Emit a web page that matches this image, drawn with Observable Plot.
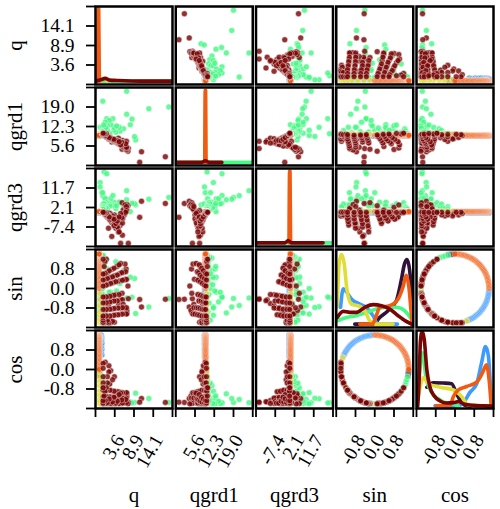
<!DOCTYPE html>
<html><head><meta charset="utf-8">
<style>html,body{margin:0;padding:0;background:#fff}</style>
<script src="https://cdn.jsdelivr.net/npm/d3@7"></script>
<script src="https://cdn.jsdelivr.net/npm/@observablehq/plot@0.6"></script>
</head><body><div id="chart"></div>
<script>
const vars = ["q","qgrd1","qgrd3","sin","cos"];
const classes = ["class 0","class 1","class 2","class 3","class 4","class 5"];
const colors = ["#30123b","#3e9bfe","#46f884","#e1dd37","#f05b12","#7a0403"];
const domains = {q:[-1.65,19.35],qgrd1:[-1.1,25.7],qgrd3:[-16.95,21.2],sin:[-1.6,1.6],cos:[-1.6,1.6]};
const tickLabels = {q:["3.6","8.9","14.1"],qgrd1:["5.6","12.3","19.0"],qgrd3:["-7.4","2.1","11.7"],sin:["-0.8","0.0","0.8"],cos:["-0.8","0.0","0.8"]};
const tickFractions = [0,0.25,0.5,0.75,1];

// points: [q, qgrd1, qgrd3, sin, cos]
const greenPts = [
[18.35,19,7.05,-.41,-1.35],[12.9,18.4,6.2,-.76,-1.19],[9.3,7.7,3.4,-1.03,-.97],[9,8.8,3.9,.41,-1.35],
[7.85,12.9,.1,.46,-1.33],[8.3,14.85,4.2,-.36,-1.37],[6.85,24.4,10.35,-.39,-1.36],[6.85,16.5,5.9,-1,-1],
[.7,9.8,19.5,-.38,-1.36],[1.43,15,18.6,-.35,-1.37],[-.4,12,14.3,-.75,-1.2],[-.4,8.9,12.2,-.78,-1.18],
[.07,9.2,9.4,-1.05,-.95],[1,10,6.4,-1,-1],[.35,21,7.9,-.7,-1.23],[6,11.5,2.9,.75,-1.2],
[5,10.7,4.7,.2,-1.4],[4.8,12,4.7,-.8,-1.17],[3.9,10.3,1.5,1.1,-.89],[3.4,11.1,4.7,.47,-1.33],
[3.4,12,3,.45,-1.34],[2.5,13,6.4,-.15,-1.41],[3.1,15,8,-.36,-1.37],[2.1,14.4,3.9,-.15,-1.4],
[1.6,12.6,2.3,.8,-1.17],[1.1,10,3.4,1.13,-.85],[.25,12,3.4,-1.1,-.89],[1,13.8,6.4,-.55,-1.3],
[.3,11,9.4,0,-1.41],[2.3,9.9,2.8,-1.3,-.56],[1.3,10.6,4.5,1.2,-.75],[.8,11.5,2.5,1.25,-.66],
[.5,10.3,1.5,.9,-1.09],[.5,10.8,2.3,1.28,-.6],[1.6,11,1.2,.6,-1.28],[.9,10.9,3.8,-1.3,-.56],
[.3,10.1,2,-.95,-1.05],[4.1,12.5,3,-.1,-1.41],[1.2,11.8,2,.15,-1.4],[.6,12.8,4,.9,-1.08],
[.4,10.4,2.8,-.25,-1.39],[.5,9.9,2.5,-1.38,-.3],[.4,10,.6,.32,-1.38],[.3,10.5,1.2,-.6,-1.28],
[.4,10,2,1.3,-.5],[.4,9.9,1.5,1.33,-.42],[.4,9.8,1.2,1.36,-.3]
];
const redPts = [
[17.4,1.9,4.1,-.44,-1.35],[10.9,3.6,5.2,-.76,-1.19],[10.4,0,-2.7,-.45,-1.34],[7.3,4.7,-15.4,-.42,-1.35],[5.2,7.2,-15.4,-.44,-1.34],
[5.7,7.5,-11.4,-.46,-1.33],[4.6,8.3,-9.8,-.62,-1.27],[6.9,4.6,2,-1.02,-.98],[6.6,5.4,.9,.38,-1.36],
[5.6,4.5,4.5,-.2,-1.4],[7.2,3.8,3,.1,-1.41],[6.9,4.2,3.6,-.9,-1.09],[6.7,4.4,2.2,.8,-1.17],[6.4,4.9,3.4,1,-1],[5.9,5.2,.9,-.65,-1.25],
[2.8,7,-12,-.5,-1.32],[1.9,8.1,-8,-.7,-1.23],
[5.1,6,-4.5,-1.06,-.93],[3.9,6.9,-5.6,-1.08,-.91],[2.8,7.6,-4,-1.12,-.87],[1.8,8.5,-2.3,-1.13,-.85],[.9,9.2,-.9,-1.13,-.85],
[6.2,5.6,-1.5,-.78,-1.18],[5.1,6.4,-6.6,-.8,-1.17],[3.9,7,-6.6,-.81,-1.16],[2.8,7.8,-4.5,-.84,-1.13],[1.8,8.4,-2.5,-.85,-1.12],[.9,9,-.9,-.86,-1.12],
[3.9,7.3,-6.5,-.5,-1.32],[2.8,8.1,-4.8,-.53,-1.31],[1.8,8.7,-2.7,-.57,-1.29],[.9,9.2,-1,-.58,-1.29],
[3.9,7,-8,-.26,-1.39],[2.8,7.9,-5.2,-.3,-1.38],[1.8,8.6,-3,-.33,-1.37],[.9,9.2,-1,-.35,-1.37],
[6.2,6.9,-1.3,.36,-1.36],[4.8,7,-4.5,.31,-1.38],[3.2,7.9,-4.6,.25,-1.39],[1.9,8.6,-2.5,.18,-1.4],[.9,9.1,-.8,.12,-1.4],
[6,6.6,-1.4,.67,-1.24],[4.9,7.2,-3.6,.6,-1.28],[3.6,7.7,-3.8,.52,-1.32],[2.3,8.5,-2.4,.44,-1.34],[1,9.2,-.9,.38,-1.36],
[4.2,7.4,-3,.9,-1.09],[2.8,8.2,-3,.78,-1.17],[1.6,8.8,-1.7,.67,-1.24],[.7,9.4,-.6,.6,-1.28],
[3.5,7.2,-1.5,-1.38,-.3],[2.5,8.2,-1,-1.41,-.05],[2.2,8.4,-.7,-1.28,-.6],
[2,8.5,-1.5,-1.4,.15],[1,9.2,-.8,-1.41,.3],
[3,7.8,-2,-1.35,-.42],[2,8,-2,-1.41,-.1],[1.6,8.8,-1.3,-1.38,-.3],[1.6,9,-1.5,-1.3,-.55],[.43,9.5,-.2,-1.4,.25],[.43,9.6,-.2,-1.41,.05],[.43,9.6,-.2,-1.38,-.3],[.43,9.5,-.2,-1.3,-.55],[.43,9.6,-.2,-1.2,-.75],
[6.8,4.9,1.5,-1.05,-.95],[5.7,5.6,-3.4,-1.05,-.95],[4.5,6.5,-6.5,-1.08,-.91],[3.4,7.2,-4.8,-1.1,-.89],[2.3,8,-3.2,-1.13,-.85],[1.3,8.9,-1.5,-1.13,-.85],[.43,9.5,-.2,-1.13,-.85],
[6.8,5.2,2.6,-.79,-1.17],[5.7,6.1,-5.5,-.79,-1.17],[4.5,6.7,-8,-.8,-1.17],[3.4,7.4,-5.5,-.82,-1.15],[2.3,8.1,-3.5,-.85,-1.13],[1.3,8.7,-1.6,-.86,-1.12],[.43,9.3,-.2,-.86,-1.12],
[4.3,7,-7.5,-.51,-1.32],[3.4,7.7,-5.8,-.51,-1.32],[2.3,8.4,-3.8,-.55,-1.3],[1.3,9,-1.7,-.58,-1.29],[.43,9.4,-.2,-.59,-1.28],
[4.8,6.6,-9.8,-.25,-1.39],[3.4,7.5,-6.8,-.28,-1.38],[2.3,8.3,-4,-.32,-1.37],[1.3,9,-2,-.35,-1.37],[.43,9.5,-.2,-.35,-1.37],
[6.8,7.2,.6,.37,-1.36],[5.7,6.6,-3.2,.34,-1.37],[3.9,7.5,-5.7,.28,-1.38],[2.5,8.2,-3.5,.21,-1.39],[1.3,8.9,-1.6,.14,-1.4],[.43,9.4,-.2,.1,-1.41],
[6.6,6.4,-.2,.69,-1.23],[5.5,6.9,-2.8,.65,-1.25],[4.3,7.4,-4.5,.55,-1.3],[3,8,-3.2,.48,-1.33],[1.6,8.9,-1.8,.41,-1.35],[.43,9.6,-.2,.35,-1.37],
[5.2,6,-.8,1.03,-.97],[4.8,7.1,-2.5,.97,-1.03],[3.4,7.9,-3.6,.83,-1.14],[2.1,8.5,-2.5,.73,-1.21],[1,9.2,-1.1,.62,-1.27],[.43,9.7,-.2,.59,-1.28],
[1.3,9.8,-.5,1.2,-.75],[.9,9.7,-.4,1.1,-.89],[.7,9.9,-.3,.9,-1.09],[.43,10,-.2,1.2,-.75]
];
const yellowSinCos = [[-1.33,.49],[-1.38,.3],[-1.41,.1],[-1.41,-.1],[-1.38,-.3],[-1.33,-.48],[-1.25,-.66],[-1.1,-.89],[-.95,-1.05],[-.7,-1.23],[-.45,-1.34],[-.2,-1.4],[.05,-1.41],[.3,-1.38],[.55,-1.3]];
const yellowCentre = [-.5,9.6,.2];
const purpleSinCos = [[1.38,-.3],[1.39,-.2],[1.4,-.1],[1.41,-.05]];
const purpleCentre = [-.5,9.5,.1];
const orangeCentre = [-.65,9.25,.1];
const orangeSin = [0,.056,.111,.166,.221,.276,.33,.384,.437,.489,.541,.592,.642,.691,.739,.786,.831,.875,.918,.96,1,1.038,1.075,1.111,1.144,1.176,1.206,1.234,1.26,1.284,1.306,1.327,1.345,1.361,1.375,1.387,1.397,1.404,1.41,1.413,1.414];
const orangeCos = [1.414,1.413,1.41,1.404,1.397,1.387,1.375,1.361,1.345,1.327,1.306,1.284,1.26,1.234,1.206,1.176,1.144,1.111,1.075,1.038,1,.96,.918,.875,.831,.786,.739,.691,.642,.592,.541,.489,.437,.384,.33,.276,.221,.166,.111,.056,0];
const blueSin = [-1.327,-1.306,-1.284,-1.26,-1.234,-1.206,-1.176,-1.144,-1.111,-1.075,-1.038,-1,-.96,-.918,-.875,-.831,-.786,-.739,-.691,-.642,-.592,-.541,-.489,-.437,-.384,-.33,-.276,-.221,-.166,-.111,-.056,0];
const blueCos = [.489,.541,.592,.642,.691,.739,.786,.831,.875,.918,.96,1,1.038,1.075,1.111,1.144,1.176,1.206,1.234,1.26,1.284,1.306,1.327,1.345,1.361,1.375,1.387,1.397,1.404,1.41,1.413,1.414];
const blueQ = [-.9,-.3,.1,-.6,-.1,-.4,-.7,.1,-.2,-.5,0,-.6,-.2,.1,-.4,-.5,-.1,0,-.5,-.2,0,-.3,-.1,-.4,0,-.2,-.3,-.1,-.3,-.2,-.3,-.2];
const blueCentre = [9,-.4];

// density curves on the diagonal: [value, height]
const kdeSin = {
  "class 0":[[-.83,.043],[-.07,.043],[.21,.129],[.55,.216],[.9,.345],[1.1,.603],[1.24,.819],[1.34,.871],[1.45,.733],[1.55,.345],[1.59,.086]],
  "class 1":[[-1.42,.259],[-1.31,.496],[-1.17,.453],[-.97,.366],[-.62,.3],[-.35,.259],[-.07,.151],[.14,.043],[.94,.043]],
  "class 2":[[-1.56,.086],[-1.17,.129],[-.76,.151],[-.35,.194],[.07,.237],[.48,.259],[.9,.259],[1.24,.216],[1.52,.108]],
  "class 3":[[-1.56,.259],[-1.48,.819],[-1.38,.94],[-1.27,.819],[-1.15,.474],[-.97,.3],[-.62,.272],[-.41,.216],[-.21,.086],[.07,.043],[.76,.043]],
  "class 4":[[-.62,.043],[-.1,.043],[.04,.129],[.21,.259],[.62,.28],[.97,.366],[1.17,.517],[1.31,.668],[1.42,.517],[1.52,.172],[1.56,.043]],
  "class 5":[[-1.56,.129],[-1.31,.207],[-1.04,.194],[-.76,.194],[-.41,.259],[-.07,.293],[.28,.28],[.62,.237],[.97,.151],[1.31,.078],[1.59,.034]]
};
const kdeCos = {
  "class 0":[[-1.17,.273],[-.9,.33],[-.48,.326],[-.14,.317],[.07,.185],[.35,.053],[.62,.026]],
  "class 1":[[-.83,.035],[.07,.026],[.35,.075],[.62,.207],[.9,.317],[1.1,.581],[1.27,.793],[1.39,.67],[1.48,.273],[1.56,.031]],
  "class 2":[[-1.55,.229],[-1.45,.537],[-1.35,.714],[-1.21,.405],[-.97,.207],[-.55,.097],[-.07,.053],[.14,.031]],
  "class 3":[[-1.55,.097],[-1.45,.273],[-1.31,.396],[-1.1,.317],[-.62,.273],[-.07,.238],[.28,.15],[.55,.044],[1.42,.031]],
  "class 4":[[-.79,.035],[-.21,.04],[-.07,.15],[.14,.238],[.48,.282],[.9,.339],[1.13,.449],[1.31,.56],[1.42,.361],[1.5,.053]],
  "class 5":[[-1.55,.031],[-1.49,.361],[-1.44,.846],[-1.37,.987],[-1.28,.89],[-1.17,.493],[-1.04,.273],[-.87,.163],[-.62,.097],[-.35,.07],[-.07,.075],[.14,.088],[.41,.053],[.76,.04],[1.17,.035],[1.56,.031]]
};
const kdeQ = {
  "class 2":[[-1.65,.043],[19.35,.043]],
  "class 3":[[-.4,.043],[.7,.078],[1.4,.043]],
  "class 4":[[-1.05,.043],[-.88,.97],[-.78,.97],[-.6,.043]],
  "class 5":[[-1.65,.043],[-1,.052],[.05,.065],[1,.078],[2.3,.056],[4.1,.052],[10.5,.043],[19.35,.043]]
};
const kdeG1 = {
  "class 2":[[-1.1,.04],[25.7,.04]],
  "class 4":[[9,.04],[9.15,.965],[9.3,.965],[9.45,.04]],
  "class 5":[[-1.1,.04],[8,.04],[9.2,.06],[10.4,.04],[14.95,.04]]
};
const kdeG3 = {
  "class 2":[[-16.95,.047],[21.2,.047]],
  "class 4":[[-.6,.047],[-.3,.966],[-.1,.966],[.2,.047]],
  "class 5":[[-16.95,.047],[-2.5,.047],[-1,.077],[.5,.047],[16.3,.047]]
};
const kdeByVar = {q:kdeQ,qgrd1:kdeG1,qgrd3:kdeG3,sin:kdeSin,cos:kdeCos};

const norm = (name,v) => (v-domains[name][0])/(domains[name][1]-domains[name][0]);

const points = [];
purpleSinCos.forEach(([s,c]) => points.push([classes[0],[...purpleCentre,s,c]]));
blueSin.forEach((s,i) => points.push([classes[1],[blueQ[i],blueCentre[0],blueCentre[1],s,blueCos[i]]]));
greenPts.forEach(p => points.push([classes[2],p]));
yellowSinCos.forEach(([s,c]) => points.push([classes[3],[...yellowCentre,s,c]]));
orangeSin.forEach((s,i) => points.push([classes[4],[...orangeCentre,s,orangeCos[i]]]));
redPts.forEach(p => points.push([classes[5],p]));

const dots = [];
for (let r=0;r<5;r++) for (let c=0;c<5;c++) {
  if (r===c) continue;
  for (const [cls,p] of points) dots.push({fx:vars[c],fy:vars[r],cls,x:norm(vars[c],p[c]),y:norm(vars[r],p[r])});
}
const curves = [];
for (const name of vars) for (const cls of classes) {
  const arr = kdeByVar[name][cls];
  if (arr) for (const [v,h] of arr) curves.push({fx:name,fy:name,cls,x:norm(name,v),y:h});
}
const xTicks = vars.flatMap(name => tickLabels[name].map((label,k) => ({fx:name,fy:"cos",x:tickFractions[k+1],label})));
const yTicks = vars.flatMap(name => tickLabels[name].map((label,k) => ({fx:"q",fy:name,y:tickFractions[k+1],label})));
const xNames = vars.map(name => ({fx:name,fy:"cos",label:name}));
const yNames = vars.map(name => ({fx:"q",fy:name,label:name}));

const chart = Plot.plot({
  width:500,height:509,
  marginLeft:95,marginRight:7,marginTop:6,marginBottom:101,
  style:{fontFamily:"'Liberation Serif',serif",background:"#fff",color:"#000"},
  fx:{domain:vars,axis:null,paddingInner:0.0405,paddingOuter:0,round:false},
  fy:{domain:vars,axis:null,paddingInner:0.037,paddingOuter:0,round:false},
  x:{domain:[0,1],axis:null},
  y:{domain:[0,1],axis:null},
  color:{type:"ordinal",domain:classes,range:colors},
  marks:[
    Plot.line(curves,{x:"x",y:"y",fx:"fx",fy:"fy",z:"cls",stroke:"cls",strokeWidth:3.6,curve:"monotone-x",clip:true}),
    Plot.dot(dots,{x:"x",y:"y",fx:"fx",fy:"fy",fill:"cls",stroke:"white",strokeWidth:0.5,r:3,opacity:0.82,clip:true}),
    Plot.frame({stroke:"#000",strokeWidth:2.5}),
    Plot.axisY(tickFractions,{anchor:"left",tickSize:9,strokeWidth:1.8,stroke:"#000",tickFormat:()=>"",label:null}),
    Plot.axisX(tickFractions,{anchor:"bottom",tickSize:9,strokeWidth:1.8,stroke:"#000",tickFormat:()=>"",label:null}),
    Plot.text(yTicks,{y:"y",fx:"fx",fy:"fy",text:"label",frameAnchor:"left",textAnchor:"end",dx:-21,fontSize:19.5,fill:"#000"}),
    Plot.text(xTicks,{x:"x",fx:"fx",fy:"fy",text:"label",frameAnchor:"bottom",textAnchor:"end",lineAnchor:"middle",rotate:-60,dx:5,dy:28,fontSize:19.5,fill:"#000"}),
    Plot.text(yNames,{fx:"fx",fy:"fy",text:"label",frameAnchor:"left",textAnchor:"middle",lineAnchor:"middle",rotate:-90,dx:-80,fontSize:21,fill:"#000"}),
    Plot.text(xNames,{fx:"fx",fy:"fy",text:"label",frameAnchor:"bottom",textAnchor:"middle",lineAnchor:"middle",dy:87,fontSize:21,fill:"#000"})
  ]
});
document.getElementById("chart").append(chart);
</script></body></html>
